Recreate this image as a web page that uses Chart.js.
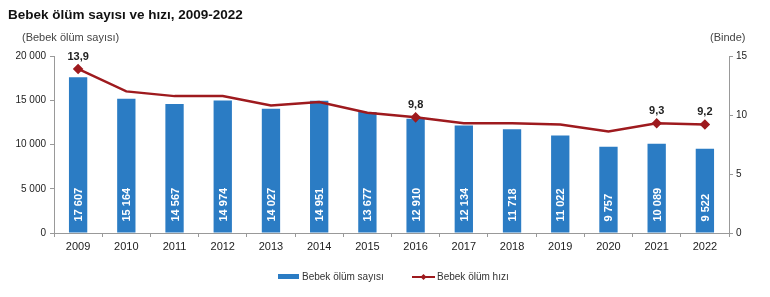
<!DOCTYPE html>
<html>
<head>
<meta charset="utf-8">
<script src="https://cdn.jsdelivr.net/npm/chart.js@4/dist/chart.umd.min.js"></script>
<style>
  body { margin: 0; background: #fff; }
  #wrap { width: 770px; height: 297px; position: relative; }
</style>
</head>
<body>
<div id="wrap"><canvas id="myChart" width="770" height="297"></canvas></div>
<script>
var years = ["2009","2010","2011","2012","2013","2014","2015","2016","2017","2018","2019","2020","2021","2022"];
var deaths = [17607, 15164, 14567, 14974, 14027, 14951, 13677, 12910, 12134, 11718, 11022, 9757, 10089, 9522];
var rates = [13.9, 12.0, 11.6, 11.6, 10.8, 11.1, 10.2, 9.8, 9.3, 9.3, 9.2, 8.6, 9.3, 9.2];
var rateLabelYears = ["2009", "2016", "2021", "2022"];

var barColor = "#2b7cc4";
var lineColor = "#9e1a1e";
var fontFam = "'Liberation Sans', Arial, sans-serif";

function fmt(n) {
  return String(n).replace(/\B(?=(\d{3})+(?!\d))/g, " ");
}
function fmtRate(n) {
  return n.toFixed(1).replace(".", ",");
}

// draws title, axis captions, value labels and legend
var extras = {
  id: "extras",
  afterDatasetsDraw(chart) {
    const ctx = chart.ctx;
    ctx.save();
    ctx.fillStyle = "#111";
    ctx.font = "bold 13.5px " + fontFam;
    ctx.textBaseline = "alphabetic";
    ctx.textAlign = "left";
    ctx.fillText("Bebek ölüm sayısı ve hızı, 2009-2022", 8, 19);

    ctx.fillStyle = "#444";
    ctx.font = "11px " + fontFam;
    ctx.fillText("(Bebek ölüm sayısı)", 22, 41);
    ctx.fillText("(Binde)", 710, 41);

    // bar values
    const barMeta = chart.getDatasetMeta(0);
    ctx.fillStyle = "#fff";
    ctx.font = "bold 11px " + fontFam;
    barMeta.data.forEach((bar, i) => {
      ctx.save();
      ctx.translate(bar.x + 4, bar.base - 11);
      ctx.rotate(-Math.PI / 2);
      ctx.textAlign = "left";
      ctx.fillText(fmt(deaths[i]), 0, 0);
      ctx.restore();
    });

    // rate labels
    const lineMeta = chart.getDatasetMeta(1);
    ctx.fillStyle = "#222";
    ctx.font = "bold 11px " + fontFam;
    ctx.textAlign = "center";
    lineMeta.data.forEach((pt, i) => {
      if (rateLabelYears.indexOf(years[i]) >= 0) {
        ctx.fillText(fmtRate(rates[i]), pt.x, pt.y - 9);
      }
    });

    // legend
    ctx.fillStyle = barColor;
    ctx.fillRect(278, 274, 21, 5);
    ctx.fillStyle = "#333";
    ctx.font = "10px " + fontFam;
    ctx.textAlign = "left";
    ctx.textBaseline = "middle";
    ctx.fillText("Bebek ölüm sayısı", 302, 277);
    ctx.strokeStyle = lineColor;
    ctx.lineWidth = 2;
    ctx.beginPath();
    ctx.moveTo(412, 277);
    ctx.lineTo(435, 277);
    ctx.stroke();
    ctx.fillStyle = lineColor;
    ctx.beginPath();
    ctx.moveTo(423.5, 274);
    ctx.lineTo(426.5, 277);
    ctx.lineTo(423.5, 280);
    ctx.lineTo(420.5, 277);
    ctx.closePath();
    ctx.fill();
    ctx.fillStyle = "#333";
    ctx.fillText("Bebek ölüm hızı", 437, 277);
    ctx.restore();
  }
};

new Chart("myChart", {
  type: "bar",
  data: {
    labels: years,
    datasets: [
      {
        type: "bar",
        label: "Bebek ölüm sayısı",
        data: deaths,
        backgroundColor: barColor,
        yAxisID: "y",
        barPercentage: 0.76,
        categoryPercentage: 0.5,
        order: 2
      },
      {
        type: "line",
        label: "Bebek ölüm hızı",
        data: rates,
        borderColor: lineColor,
        backgroundColor: lineColor,
        borderWidth: 2.5,
        tension: 0,
        pointStyle: "rectRot",
        pointRadius: (c) => rateLabelYears.indexOf(years[c.dataIndex]) >= 0 ? 3.5 : 0,
        yAxisID: "y1",
        order: 1
      }
    ]
  },
  options: {
    responsive: false,
    animation: false,
    layout: { padding: { top: 56, left: 0, right: 0, bottom: 0 } },
    plugins: {
      legend: { display: false },
      tooltip: { enabled: false }
    },
    scales: {
      x: {
        offset: true,
        grid: {
          offset: true,
          drawOnChartArea: false,
          color: "#999",
          tickLength: 4
        },
        border: { color: "#999" },
        ticks: {
          color: "#222",
          font: { family: fontFam, size: 11 },
          padding: 3
        },
        afterFit(scale) { scale.height = 64; }
      },
      y: {
        position: "left",
        min: 0,
        max: 20000,
        grid: { drawOnChartArea: false, color: "#999", tickLength: 4 },
        border: { color: "#999" },
        ticks: {
          stepSize: 5000,
          color: "#222",
          font: { family: fontFam, size: 10 },
          padding: 4,
          callback: (v) => fmt(v)
        },
        afterFit(scale) { scale.width = 54; }
      },
      y1: {
        position: "right",
        min: 0,
        max: 15,
        grid: { drawOnChartArea: false, color: "#999", tickLength: 4 },
        border: { color: "#999" },
        ticks: {
          stepSize: 5,
          color: "#222",
          font: { family: fontFam, size: 10 },
          padding: 3
        },
        afterFit(scale) { scale.width = 41; }
      }
    }
  },
  plugins: [extras]
});
</script>
</body>
</html>
